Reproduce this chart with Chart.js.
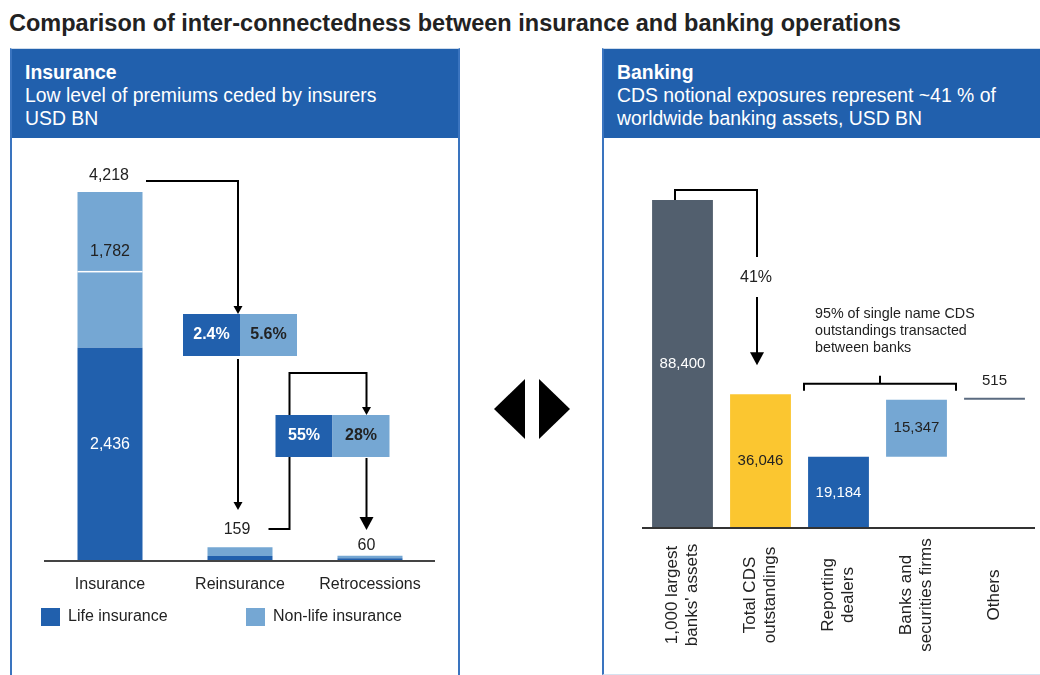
<!DOCTYPE html>
<html><head><meta charset="utf-8">
<script src="https://cdn.jsdelivr.net/npm/chart.js@4.4.0/dist/chart.umd.min.js"></script>
<style>
html,body{margin:0;padding:0}
body{width:1040px;height:675px;overflow:hidden;background:#fff;position:relative;font-family:"Liberation Sans",Arial,sans-serif}
#title{position:absolute;left:9px;top:10px;font-size:23.5px;font-weight:bold;color:#222;white-space:nowrap}
.panel{position:absolute;top:48px;box-sizing:border-box;border-left:2px solid #3a74bf;border-right:2px solid #3a74bf;border-top:1px solid #cfdcec}
.head{background:#2160ad;color:#fff;height:89px;box-sizing:border-box;padding:12px 0 0 13px;font-size:19.4px;line-height:23px}
.head b{display:block}
#pl{left:10px;width:450px;height:700px}
#pr{left:602px;width:500px;height:627px;border-bottom:1px solid #d6e2f0}
canvas{position:absolute}
#cl{left:12px;top:138px}
#cr{left:604px;top:138px}
.tri{position:absolute;width:0;height:0;border-top:30px solid transparent;border-bottom:30px solid transparent}
#tl{left:494px;top:379px;border-right:31px solid #000}
#tr{left:539px;top:379px;border-left:31px solid #000}
</style></head>
<body>
<div id="title">Comparison of inter-connectedness between insurance and banking operations</div>
<div class="panel" id="pl"><div class="head"><b>Insurance</b>Low level of premiums ceded by insurers<br>USD BN</div></div>
<div class="panel" id="pr"><div class="head"><b>Banking</b>CDS notional exposures represent ~41 % of<br>worldwide banking assets, USD BN</div></div>
<div class="tri" id="tl"></div><div class="tri" id="tr"></div>
<canvas id="cl" width="446" height="537"></canvas>
<canvas id="cr" width="436" height="537"></canvas>
<script>
// ---------- data ----------
const insCategories = ['Insurance', 'Reinsurance', 'Retrocessions'];
const lifeValues = [2436, 58, 32];
const nonLifeValues = [1782, 100, 28];
const insTotals = [4218, 159, 60];
const insLabels = ['4,218', '159', '60'];
const lifeShareCeded = ['2.4%', '55%'];
const nonLifeShareCeded = ['5.6%', '28%'];
const seriesNames = ['Life insurance', 'Non-life insurance'];

const bankCategories = [['1,000 largest', "banks' assets"], ['Total CDS', 'outstandings'], ['Reporting', 'dealers'], ['Banks and', 'securities firms'], ['Others']];
const bankBase = [0, 0, 0, 19184, 34531];
const bankValues = [88400, 36046, 19184, 15347, 515];
const bankLabels = ['88,400', '36,046', '19,184', '15,347', '515'];
const cdsShare = '41%';
const bracketNote = ['95% of single name CDS', 'outstandings transacted', 'between banks'];

// ---------- styles ----------
const DARK = '#2160ad', LIGHT = '#75a7d3', SLATE = '#525f6e', YELLOW = '#fbc630', INK = '#222';
const FONT = '"Liberation Sans", Arial, sans-serif';

function poly(ctx, pts, lw) {
  ctx.beginPath(); ctx.moveTo(pts[0][0], pts[0][1]);
  for (let i = 1; i < pts.length; i++) ctx.lineTo(pts[i][0], pts[i][1]);
  ctx.lineWidth = lw || 2; ctx.strokeStyle = '#000'; ctx.stroke();
}
function head(ctx, x, yTip, w, h) {
  ctx.beginPath(); ctx.moveTo(x - w / 2, yTip - h); ctx.lineTo(x + w / 2, yTip - h); ctx.lineTo(x, yTip); ctx.closePath();
  ctx.fillStyle = '#000'; ctx.fill();
}
function txt(ctx, s, x, y, size, color, bold, align) {
  ctx.font = (bold ? 'bold ' : '') + size + 'px ' + FONT;
  ctx.fillStyle = color; ctx.textAlign = align || 'center'; ctx.textBaseline = 'middle';
  ctx.fillText(s, x, y);
}

// ---------- insurance chart ----------
const insPlugin = {
  id: 'insDecor',
  afterDatasetsDraw(chart) {
    const ctx = chart.ctx, xs = chart.scales.x, ys = chart.scales.y;
    const xI = xs.getPixelForValue(0), xR = xs.getPixelForValue(1), xT = xs.getPixelForValue(2);
    const base = ys.getPixelForValue(0);
    ctx.save();
    // white split line in non-life block
    const m0 = chart.getDatasetMeta(1).data[0];
    ctx.fillStyle = '#fff'; ctx.fillRect(m0.x - m0.width / 2, ys.getPixelForValue(insTotals[0]) + 79, m0.width, 1.5);
    // baseline
    ctx.strokeStyle = '#444'; ctx.lineWidth = 2;
    ctx.beginPath(); ctx.moveTo(chart.chartArea.left - 1, base); ctx.lineTo(chart.chartArea.right, base); ctx.stroke();
    // totals
    const offs = [16, 17, 10], dx = [-1, -3, -3.5];
    insTotals.forEach((v, i) => txt(ctx, insLabels[i], xs.getPixelForValue(i) + dx[i], ys.getPixelForValue(v) - offs[i], 16, INK));
    // segment labels on insurance bar
    txt(ctx, nonLifeValues[0].toLocaleString('en-US'), xI, ys.getPixelForValue(insTotals[0]) + 60, 16, INK);
    txt(ctx, lifeValues[0].toLocaleString('en-US'), xI, ys.getPixelForValue(lifeValues[0] / 2) - 10, 16, '#fff');
    const b1 = { c: xR, top: base - 247 }, b2 = { c: xT - 37.5, top: base - 146 };
    // arrows (drawn under the boxes)
    const yTop = ys.getPixelForValue(insTotals[0]) - 11;
    poly(ctx, [[xI + 36, yTop], [xR - 2, yTop], [xR - 2, b1.top - 6]]);
    head(ctx, xR - 2, b1.top, 9, 8);
    poly(ctx, [[xR - 2, b1.top + 45], [xR - 2, base - 57]]);
    head(ctx, xR - 2, base - 51, 9, 8);
    poly(ctx, [[xR + 28.5, base - 32], [xR + 49.5, base - 32], [xR + 49.5, base - 188], [xT - 3.5, base - 188], [xT - 3.5, b2.top - 6]]);
    head(ctx, xT - 3.5, b2.top, 9, 8);
    poly(ctx, [[xT - 3.5, b2.top + 43], [xT - 3.5, base - 40]]);
    head(ctx, xT - 3.5, base - 31, 14, 13);
    // boxes
    [b1, b2].forEach((b, i) => {
      ctx.fillStyle = DARK; ctx.fillRect(b.c - 57, b.top, 57, 42);
      ctx.fillStyle = LIGHT; ctx.fillRect(b.c, b.top, 57, 42);
      txt(ctx, lifeShareCeded[i], b.c - 28.5, b.top + 21, 16, '#fff', true);
      txt(ctx, nonLifeShareCeded[i], b.c + 28.5, b.top + 21, 16, INK, true);
    });
    // category labels
    insCategories.forEach((c, i) => txt(ctx, c, xs.getPixelForValue(i), base + 24, 16, INK));
    // legend
    const ly = base + 47;
    ctx.fillStyle = DARK; ctx.fillRect(29, ly, 19, 18);
    txt(ctx, seriesNames[0], 56, ly + 9, 16, INK, false, 'left');
    ctx.fillStyle = LIGHT; ctx.fillRect(234, ly, 19, 18);
    txt(ctx, seriesNames[1], 261, ly + 9, 16, INK, false, 'left');
    ctx.restore();
  }
};

new Chart(document.getElementById('cl'), {
  type: 'bar',
  data: {
    labels: insCategories,
    datasets: [
      { label: seriesNames[0], data: lifeValues, backgroundColor: DARK, barPercentage: 0.5, categoryPercentage: 1 },
      { label: seriesNames[1], data: nonLifeValues, backgroundColor: LIGHT, barPercentage: 0.5, categoryPercentage: 1 }
    ]
  },
  options: {
    responsive: false, animation: false,
    layout: { padding: { left: 33, right: 23, top: 3, bottom: 114 } },
    plugins: { legend: { display: false }, tooltip: { enabled: false } },
    scales: {
      x: { stacked: true, display: false },
      y: { stacked: true, display: false, min: 0, max: 4800 }
    }
  },
  plugins: [insPlugin]
});

// ---------- banking chart ----------
const bankPlugin = {
  id: 'bankDecor',
  afterDatasetsDraw(chart) {
    const ctx = chart.ctx, xs = chart.scales.x, ys = chart.scales.y;
    const base = ys.getPixelForValue(0);
    const X = i => xs.getPixelForValue(i);
    ctx.save();
    ctx.strokeStyle = '#333'; ctx.lineWidth = 2;
    ctx.beginPath(); ctx.moveTo(chart.chartArea.left - 1.5, base); ctx.lineTo(chart.chartArea.right + 1.5, base); ctx.stroke();
    // value labels
    const colors = ['#fff', INK, '#fff', INK];
    for (let i = 0; i < 4; i++) {
      txt(ctx, bankLabels[i], X(i), ys.getPixelForValue(bankBase[i] + bankValues[i] / 2), 15, colors[i]);
    }
    txt(ctx, bankLabels[4], X(4), ys.getPixelForValue(bankBase[4] + bankValues[4]) - 17, 15, INK);
    // 41% connector
    const top0 = ys.getPixelForValue(bankValues[0]) - 10;
    poly(ctx, [[X(0) - 7.5, top0 + 10], [X(0) - 7.5, top0], [X(1) - 3.5, top0], [X(1) - 3.5, top0 + 67]]);
    txt(ctx, cdsShare, X(1) - 4.5, top0 + 88, 16, INK);
    const tip = ys.getPixelForValue(bankValues[1]) - 29;
    poly(ctx, [[X(1) - 3.5, top0 + 107], [X(1) - 3.5, tip - 10]]);
    head(ctx, X(1) - 3.5, tip, 14, 13);
    // bracket
    const bl = X(2) - 34.5, br = X(3) + 39.5, by = ys.getPixelForValue(bankBase[4]) - 16;
    poly(ctx, [[bl, by + 7], [bl, by], [br, by], [br, by + 7]]);
    poly(ctx, [[(bl + br) / 2, by], [(bl + br) / 2, by - 8]]);
    bracketNote.forEach((s, j) => txt(ctx, s, bl + 11, by - 70 + j * 17, 14.3, INK, false, 'left'));
    // rotated category labels
    ctx.font = '17px ' + FONT; ctx.fillStyle = INK; ctx.textAlign = 'center'; ctx.textBaseline = 'middle';
    bankCategories.forEach((lines, i) => {
      ctx.save();
      ctx.translate(X(i), base + 67);
      ctx.rotate(-Math.PI / 2);
      lines.forEach((s, j) => ctx.fillText(s, 0, (j - (lines.length - 1) / 2) * 20));
      ctx.restore();
    });
    ctx.restore();
  }
};

new Chart(document.getElementById('cr'), {
  type: 'bar',
  data: {
    labels: bankCategories,
    datasets: [{
      label: 'USD BN',
      data: bankBase.map((b, i) => [b, b + bankValues[i]]),
      backgroundColor: [SLATE, YELLOW, DARK, LIGHT, '#5b6b80'],
      barPercentage: 0.78, categoryPercentage: 1, minBarLength: 2
    }]
  },
  options: {
    responsive: false, animation: false,
    layout: { padding: { left: 39.5, right: 6.5, top: 3, bottom: 147 } },
    plugins: { legend: { display: false }, tooltip: { enabled: false } },
    scales: {
      x: { display: false },
      y: { display: false, min: 0, max: 104300 }
    }
  },
  plugins: [bankPlugin]
});
</script>
</body></html>
